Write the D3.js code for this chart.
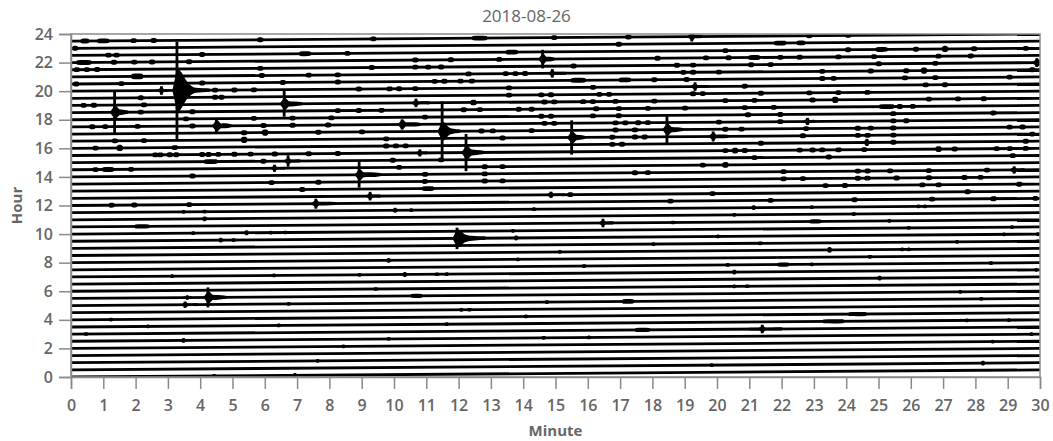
<!DOCTYPE html>
<html><head><meta charset="utf-8">
<script src="https://cdn.jsdelivr.net/npm/d3@7"></script>
<style>
body{margin:0;background:#fff;}
svg{display:block;}
</style></head><body>
<svg id="chart" width="1053" height="441"></svg>
<script>
// ---- data ----
const title = "2018-08-26";
const xTicks = [0,1,2,3,4,5,6,7,8,9,10,11,12,13,14,15,16,17,18,19,20,21,22,23,24,25,26,27,28,29,30];
const yTicks = [0,2,4,6,8,10,12,14,16,18,20,22,24];
// start hour of each 30-minute trace
const traceHours = [0,0.5,1,1.5,2,2.5,3,3.5,4,4.5,5,5.5,6,6.5,7,7.5,8,8.5,9,9.5,10,10.5,11,11.5,
  12,12.5,13,13.5,14,14.5,15,15.5,16,16.5,17,17.5,18,18.5,19,19.5,20,20.5,21,21.5,22,22.5,23,23.5];
// events: [trace start hour, minute, peak amplitude (h), body amplitude (h), body duration (min), coda length (min)]
const events = [
  [18.5, 1.35, 1.5, 0.5, 0.15, 0.4],
  [20.0, 3.28, 3.4, 1.55, 0.3, 1.0],
  [20.0, 2.8, 0.3, 0.25, 0.08, 0.15],
  [19.0, 6.6, 0.9, 0.45, 0.15, 0.55],
  [17.5, 4.5, 0.5, 0.4, 0.15, 0.45],
  [15.0, 6.72, 0.4, 0.25, 0.1, 0.35],
  [14.5, 6.3, 0.25, 0.22, 0.08, 0.3],
  [14.0, 8.92, 0.9, 0.4, 0.15, 0.65],
  [12.5, 9.26, 0.3, 0.25, 0.08, 0.3],
  [12.0, 7.58, 0.35, 0.3, 0.1, 0.6],
  [5.5, 4.24, 0.7, 0.45, 0.15, 0.55],
  [5.5, 3.6, 0.15, 0.15, 0.05, 0.1],
  [5.0, 3.53, 0.22, 0.2, 0.1, 0.35],
  [9.5, 11.95, 0.75, 0.65, 0.25, 0.8],
  [10.5, 16.47, 0.3, 0.25, 0.08, 0.3],
  [12.5, 14.86, 0.22, 0.22, 0.08, 0.4],
  [17.0, 11.49, 2.1, 0.7, 0.2, 0.55],
  [15.5, 12.23, 1.3, 0.5, 0.18, 0.55],
  [17.5, 10.25, 0.35, 0.35, 0.12, 0.55],
  [19.0, 10.68, 0.3, 0.25, 0.08, 0.4],
  [15.5, 10.8, 0.25, 0.22, 0.08, 0.2],
  [22.0, 14.6, 0.65, 0.4, 0.12, 0.35],
  [21.0, 14.9, 0.3, 0.25, 0.08, 0.4],
  [16.5, 15.5, 1.2, 0.45, 0.15, 0.4],
  [17.0, 18.45, 1.0, 0.45, 0.15, 0.5],
  [16.5, 19.88, 0.35, 0.3, 0.1, 0.45],
  [23.5, 19.22, 0.35, 0.3, 0.1, 0.3],
  [20.0, 19.32, 0.3, 0.25, 0.08, 0.4],
  [3.0, 21.4, 0.3, 0.25, 0.1, 0.6],
  [21.5, 29.9, 0.3, 0.3, 0.1, 0.1],
  [16.0, 24.64, 0.25, 0.25, 0.08, 0.15],
  [14.0, 29.2, 0.25, 0.25, 0.08, 0.3],
  [17.5, 22.8, 0.25, 0.25, 0.08, 0.2]
];
// small bursts: trace start hour -> list of [minute, amplitude (h), length (min)] (0 = default)
const blobs = {
  23.5: [[0.33,0,0.2],[0.85,0,0.3],[1.88],[2.5],[5.8],[9.3],[12.45,0,0.4],[14.9],[17.2],[22.8],[24.0]],
  23.0: [[0.07],[16.9],[21.8,0,0.3],[22.5,0,0.2]],
  22.5: [[1.1],[1.35],[4.0],[7.1,0,0.3],[8.5],[13.5,0,0.3],[20.2],[24.0],[24.95,0,0.3],[26.1],[27.0,0.22],[27.9],[29.5]],
  22.0: [[0.2,0,0.4],[1.27],[1.9],[2.45],[3.6],[10.6],[11.7],[13.2],[18.1],[19.6],[20.3],[21.0,0,0.3],[21.9],[22.5],[23.7],[24.8],[26.8],[27.8]],
  21.5: [[0.12],[0.43],[0.75],[5.8],[9.25],[10.6],[11.0],[11.4],[15.5],[18.7],[19.2],[21.0],[21.6],[24.95],[26.7]],
  21.0: [[1.9,0.2,0.3],[5.85],[7.3],[8.2],[12.25],[13.4],[13.7],[14.0],[18.9],[19.2],[20.0],[23.2],[24.7],[25.8],[26.35,0.22],[29.7]],
  20.5: [[0.1],[1.5],[4.0],[6.5],[8.2],[11.2],[11.5],[12.0],[12.35],[15.5,0,0.4],[17.0,0,0.3],[18.0],[19.0],[23.2],[23.55],[25.76],[26.7],[29.0]],
  20.0: [[4.4],[5.0],[5.6],[8.85],[9.8],[10.1],[10.6],[13.5],[16.1],[20.8],[26.4],[27.0]],
  19.5: [[2.1],[4.4],[4.6],[13.5],[14.5],[14.8],[16.3],[16.6],[19.2],[19.5],[21.3],[22.8],[23.7],[24.6]],
  19.0: [[0.33],[0.65],[2.2],[12.4,0.2],[14.6],[14.9],[15.8],[16.1],[16.8],[18.0],[20.2],[21.1],[22.9],[23.6,0.22],[26.5],[27.4],[28.2]],
  18.5: [[2.1],[3.7],[8.2],[8.85],[9.55],[12.1],[12.6],[13.8],[14.2],[16.2],[16.9],[17.8],[18.95],[20.8],[21.7],[25.05,0,0.4],[25.6],[26.0]],
  18.0: [[3.5],[5.6],[6.8],[8.0],[10.9],[14.5],[14.8],[16.1],[16.9],[20.9],[21.9],[25.4],[28.5]],
  17.5: [[0.6],[1.0],[2.0],[3.7],[5.9],[6.8],[7.9],[14.6],[14.9],[16.8],[17.1],[17.5],[17.8],[20.0],[21.9],[25.4],[25.8]],
  17.0: [[5.3],[5.95,0.22],[7.6],[8.95],[12.65],[13.0],[14.2],[16.8],[17.4],[20.2],[20.7],[22.7],[24.3],[24.7],[25.4],[29.0],[29.4]],
  16.5: [[1.3],[2.2],[5.3,0.22],[9.7],[13.3],[16.7],[17.4],[17.7],[22.6],[24.3],[24.6],[25.4],[29.7]],
  16.0: [[0.7],[1.45,0.22],[3.15],[9.7],[10.0],[10.3],[16.7],[17.0],[21.3],[25.4],[29.5]],
  15.5: [[2.55],[2.7],[3.0],[3.2],[4.0],[4.2],[4.5],[5.0],[5.5],[6.25],[7.3],[8.2],[20.2],[20.5,0.2],[20.8],[22.5],[22.9],[23.2],[23.7],[24.5],[26.8,0.2],[27.3],[28.6],[29.0],[29.5]],
  15.0: [[4.15,0,0.35],[5.9],[9.9],[11.4],[21.1],[23.4],[29.1]],
  14.5: [[0.7],[1.0,0,0.3],[1.8],[10.1],[12.75],[13.3],[19.5],[20.2,0.2]],
  14.0: [[3.7],[10.9],[12.75],[17.4],[17.8],[22.0],[24.3],[24.6],[25.3],[26.5],[28.3]],
  13.5: [[6.15],[7.6],[10.9],[12.75],[13.3],[22.0],[22.6],[24.3],[24.6],[25.5],[26.5],[27.6],[28.1]],
  13.0: [[7.1],[10.9,0,0.3],[23.3],[23.9],[26.3],[26.8],[29.3]],
  12.5: [[15.4],[19.8],[27.7]],
  12.0: [[1.2],[1.9],[3.6,0.17],[18.5],[21.6],[24.2],[26.6],[28.5,0.18],[29.8]],
  11.5: [[3.45],[4.1],[10.0,0.17],[10.5],[14.3],[21.1,0.17],[22.9],[26.2],[26.4]],
  11.0: [[4.1,0.17],[20.5],[24.2]],
  10.5: [[2.0,0.15,0.4],[18.6],[22.9,0.15,0.3],[25.3]],
  10.0: [[3.75],[5.4,0.17],[6.15],[6.6],[13.65],[25.9],[29.1]],
  9.5: [[4.6,0.17],[5.0],[12.75],[13.75,0.17],[20.0],[28.85],[29.9]],
  9.0: [[18.0],[21.3],[27.4],[29.9]],
  8.5: [[15.1],[23.45,0.2],[25.7],[25.9]],
  8.0: [[9.8,0.17],[13.8],[24.7]],
  7.5: [[15.85],[20.3],[21.9,0.15,0.3],[22.9],[28.45]],
  7.0: [[3.1],[6.25],[8.9],[10.3,0.17],[11.3],[11.6],[20.5,0.17],[29.85]],
  6.5: [[25.0,0.17]],
  6.0: [[9.4],[20.5],[20.9]],
  5.5: [[10.55,0.15,0.3],[27.5]],
  5.0: [[6.7],[14.7],[17.1,0.17,0.3],[28.15]],
  4.5: [[12.05],[12.3]],
  4.0: [[1.2],[14.05],[24.1,0.15,0.5]],
  3.5: [[2.35],[6.4],[11.6],[23.3,0.15,0.6],[27.7],[29.0]],
  3.0: [[0.43],[17.5,0.15,0.4],[21.0,0.1,0.35]],
  2.5: [[3.45,0.17],[9.8],[14.6],[16.0],[29.7]],
  2.0: [[8.4],[28.5]],
  1.0: [[7.6]],
  0.5: [[19.8],[28.2,0.17]],
  0.0: [[4.4],[6.9,0.17]]
};

// ---- layout ----
const W = 1053, H = 441;
const margin = {left: 71, right: 13, top: 34, bottom: 64};
const svg = d3.select("#chart");
const x = d3.scaleLinear().domain([0, 30]).range([margin.left, W - margin.right]);
const y = d3.scaleLinear().domain([0, 24]).range([H - margin.bottom, margin.top]);

svg.append("defs").append("clipPath").attr("id", "clip")
  .append("rect").attr("x", x(0)).attr("y", y(24)).attr("width", x(30) - x(0)).attr("height", y(0) - y(24));

const g = svg.append("g").attr("clip-path", "url(#clip)");
const ink = "#000";

// traces
g.selectAll("line.trace").data(traceHours).join("line")
  .attr("class", "trace")
  .attr("x1", x(0)).attr("y1", h => y(h))
  .attr("x2", x(30)).attr("y2", h => y(h + 30 / 60))
  .attr("stroke", ink).attr("stroke-width", 2.8);

const area = d3.area()
  .x(p => x(p.t))
  .y0(p => y(p.c - p.w))
  .y1(p => y(p.c + p.w))
  .curve(d3.curveMonotoneX);

function profile(h, m, pts) {
  return pts.map(([dt, w]) => ({t: m + dt, c: h + (m + dt) / 60, w}));
}

// small bursts
const blobList = [];
Object.keys(blobs).forEach(k => {
  const h = +k, top = h >= 12;
  blobs[k].forEach(b => blobList.push({h, m: b[0], a: b[1] || (top ? 0.17 : 0.13), len: b[2] || (top ? 0.12 : 0.07)}));
});
g.selectAll("path.blob").data(blobList).join("path")
  .attr("class", "blob")
  .attr("d", d => area(profile(d.h, d.m, [[-0.05, 0.03], [0, d.a * 0.9], [d.len * 0.5, d.a], [d.len, d.a * 0.9], [d.len + 0.05, 0.03]])))
  .attr("fill", ink);

// events
g.selectAll("path.event").data(events).join("path")
  .attr("class", "event")
  .attr("d", ([h, m, P, B, D, L]) => area(profile(h, m, [
    [-0.14, 0.03], [-0.06, 0.55 * B], [0, B], [D * 0.4, 0.85 * B], [D, 0.42 * B],
    [D + (L - D) * 0.4, Math.min(0.17, 0.42 * B)], [L, 0.11], [L + 0.05, 0.03]
  ])))
  .attr("fill", ink);
g.selectAll("line.spike").data(events).join("line")
  .attr("class", "spike")
  .attr("x1", d => x(d[1])).attr("x2", d => x(d[1]))
  .attr("y1", d => y(d[0] + d[1] / 60 + d[2]))
  .attr("y2", d => y(d[0] + d[1] / 60 - d[2]))
  .attr("stroke", ink).attr("stroke-width", 2.8);

// frame
const axisColor = "#8a8a8a";
svg.append("rect").attr("x", x(0)).attr("y", y(24))
  .attr("width", x(30) - x(0)).attr("height", y(0) - y(24))
  .attr("fill", "none").attr("stroke", axisColor).attr("stroke-width", 1.5);

const font = "'Open Sans', 'DejaVu Sans', sans-serif";
const xAxis = svg.append("g").attr("transform", `translate(0,${y(0)})`)
  .call(d3.axisBottom(x).tickValues(xTicks).tickFormat(d3.format("d")).tickSize(12).tickPadding(11));
const yAxis = svg.append("g").attr("transform", `translate(${x(0)},0)`)
  .call(d3.axisLeft(y).tickValues(yTicks).tickFormat(d3.format("d")).tickSize(12).tickPadding(6));
[xAxis, yAxis].forEach(a => {
  a.select(".domain").attr("stroke", axisColor).attr("stroke-width", 1.5);
  a.selectAll(".tick line").attr("stroke", axisColor).attr("stroke-width", 1.5);
  a.selectAll(".tick text").attr("fill", "#666").attr("font-family", font)
    .attr("font-size", 16).attr("font-weight", 600);
});

svg.append("text").attr("x", W / 2).attr("y", 22)
  .attr("text-anchor", "middle").attr("font-family", font).attr("font-size", 17)
  .attr("fill", "#666").text(title);
svg.append("text").attr("x", (x(0) + x(30)) / 2).attr("y", 436)
  .attr("text-anchor", "middle").attr("font-family", font).attr("font-size", 15)
  .attr("font-weight", "bold").attr("fill", "#666").text("Minute");
svg.append("text").attr("transform", `translate(22,${(y(0) + y(24)) / 2}) rotate(-90)`)
  .attr("text-anchor", "middle").attr("font-family", font).attr("font-size", 15)
  .attr("font-weight", "bold").attr("fill", "#666").text("Hour");
</script>
</body></html>
